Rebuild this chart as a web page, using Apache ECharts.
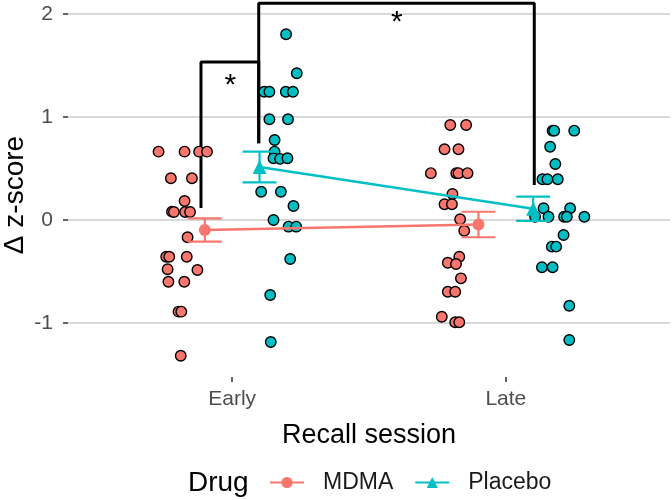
<!DOCTYPE html>
<html>
<head>
<meta charset="utf-8">
<script src="https://cdn.jsdelivr.net/npm/echarts@6/dist/echarts.min.js"></script>
<style>html,body{margin:0;padding:0;background:#fff;}#c{width:672px;height:500px;}</style>
</head>
<body>
<div id="c"></div>
<script>
// ---- data ----
const categories = ['Early', 'Late'];
const yTicks = [-1, 0, 1, 2];
const seriesNames = ['MDMA', 'Placebo'];
const xTitle = 'Recall session';
const yTitle = 'Δ z-score';
const legendTitle = 'Drug';

// jittered individual points [x, Δ z-score]
const mdmaPoints = [
  [0.731,0.664],[0.826,0.664],[0.879,0.664],[0.908,0.664],
  [0.776,0.405],[0.853,0.405],
  [0.826,0.185],
  [0.780,0.081],[0.787,0.078],[0.828,0.078],[0.846,0.078],
  [0.837,-0.168],
  [0.759,-0.357],[0.770,-0.357],[0.834,-0.357],
  [0.764,-0.479],[0.873,-0.486],
  [0.767,-0.600],[0.825,-0.600],
  [0.804,-0.891],[0.814,-0.891],
  [0.812,-1.319],
  [1.797,0.923],[1.855,0.923],
  [1.776,0.687],[1.827,0.687],
  [1.726,0.455],[1.819,0.455],[1.827,0.455],[1.860,0.455],
  [1.805,0.253],[1.776,0.153],[1.803,0.153],
  [1.833,0.007],[1.848,-0.104],
  [1.830,-0.357],[1.788,-0.415],[1.818,-0.428],
  [1.836,-0.567],
  [1.788,-0.697],[1.815,-0.697],
  [1.766,-0.940],[1.815,-0.994],[1.830,-0.994]
];
const placeboPoints = [
  [1.197,1.805],[1.236,1.426],
  [1.117,1.247],[1.136,1.247],[1.196,1.247],[1.222,1.247],
  [1.136,0.979],[1.204,0.979],
  [1.155,0.777],[1.155,0.664],
  [1.151,0.600],[1.175,0.594],[1.202,0.600],
  [1.106,0.275],[1.178,0.275],
  [1.224,0.136],[1.151,0.0],
  [1.206,-0.065],[1.234,-0.065],
  [1.212,-0.379],[1.139,-0.729],[1.141,-1.186],
  [2.171,0.868],[2.177,0.868],[2.250,0.868],
  [2.162,0.712],[2.181,0.544],
  [2.134,0.396],[2.152,0.396],[2.190,0.396],
  [2.138,0.114],[2.235,0.114],
  [2.107,0.032],[2.156,0.032],[2.213,0.032],[2.223,0.032],[2.287,0.032],
  [2.211,-0.146],[2.168,-0.259],[2.184,-0.259],
  [2.132,-0.460],[2.171,-0.460],
  [2.232,-0.833],[2.232,-1.166]
];

// group means [x, mean, se]
const mdmaMeans = [[0.9,-0.097,0.113],[1.9,-0.044,0.124]];
const placeboMeans = [[1.1,0.515,0.149],[2.1,0.109,0.118]];

// significance brackets (polyline vertices) and star positions
const bracketShort = [[0.886,0.117],[0.886,1.535],[1.097,1.535],[1.097,0.745]];
const bracketLong  = [[1.097,0.745],[1.097,2.106],[2.104,2.106],[2.104,0.340]];
const stars = [[0.993,1.377],[1.602,1.982]];

// ---- chart ----
const RED = '#F8766D', TEAL = '#00BFC4';
const FONT = 'Liberation Sans, Arial, sans-serif';
const CAP = 0.062;

function errRender(color) {
  return function (params, api) {
    const x = api.value(0), m = api.value(1), se = api.value(2);
    const top = api.coord([x, m + se]);
    const bot = api.coord([x, m - se]);
    const l = api.coord([x - CAP, m])[0];
    const r = api.coord([x + CAP, m])[0];
    const st = { stroke: color, lineWidth: 2.2 };
    return { type: 'group', children: [
      { type: 'line', shape: { x1: top[0], y1: top[1], x2: bot[0], y2: bot[1] }, style: st },
      { type: 'line', shape: { x1: l, y1: top[1], x2: r, y2: top[1] }, style: st },
      { type: 'line', shape: { x1: l, y1: bot[1], x2: r, y2: bot[1] }, style: st }
    ]};
  };
}

function starRender(params, api) {
  const p = api.coord([api.value(0), api.value(1)]);
  return { type: 'text', x: p[0], y: p[1] + 7,
    style: { text: '*', fontSize: 30, fill: '#000', fontFamily: FONT, align: 'center', verticalAlign: 'middle' } };
}

const chart = echarts.init(document.getElementById('c'), null, { renderer: 'canvas' });
chart.setOption({
  animation: false,
  textStyle: { fontFamily: FONT },
  grid: { left: 68, right: 2, top: 0, bottom: 123, containLabel: false, outerBoundsMode: 'none' },
  xAxis: {
    type: 'value', min: 0.4, max: 2.6,
    name: xTitle, nameLocation: 'middle', nameGap: 45,
    nameTextStyle: { fontSize: 27, color: '#000', fontFamily: FONT },
    axisLine: { show: false, onZero: false },
    axisTick: { show: true, length: 5, customValues: [1, 2], lineStyle: { color: '#333', width: 1.5 } },
    axisLabel: { customValues: [1, 2], margin: 12, fontSize: 21, color: '#4D4D4D', fontFamily: FONT,
      formatter: v => categories[Math.round(v) - 1] },
    splitLine: { show: false }
  },
  yAxis: {
    type: 'value', min: -1.526, max: 2.138,
    axisLine: { show: false, onZero: false },
    axisTick: { show: true, length: 5, customValues: yTicks, lineStyle: { color: '#333', width: 1.5 } },
    axisLabel: { customValues: yTicks, margin: 15, fontSize: 21, color: '#4D4D4D', fontFamily: FONT },
    splitLine: { show: false }
  },
  legend: {
    data: seriesNames, left: 264, top: 466, itemWidth: 34, itemHeight: 14, itemGap: 21,
    textStyle: { fontSize: 23, color: '#1a1a1a', fontFamily: FONT, padding: [0, 0, 0, 14] }
  },
  graphic: [
    { type: 'text', left: 188, top: 469, style: { text: legendTitle, fontSize: 28, fill: '#000', fontFamily: FONT } },
    { type: 'text', x: 15, y: 195, rotation: Math.PI / 2,
      style: { text: yTitle, fontSize: 28, fill: '#000', fontFamily: FONT, align: 'center', verticalAlign: 'middle' } }
  ],
  series: [
    { type: 'line', name: 'grid', data: [], silent: true, z: 0,
      markLine: { silent: true, z: 0, symbol: 'none', label: { show: false },
        lineStyle: { color: '#d9d9d9', width: 1.8, type: 'solid' },
        data: yTicks.map(v => ({ yAxis: v })) } },
    { type: 'line', name: 'b1', data: bracketShort, showSymbol: false, symbol: 'none', silent: true, z: 1,
      lineStyle: { color: '#000', width: 3 } },
    { type: 'line', name: 'b2', data: bracketLong, showSymbol: false, symbol: 'none', silent: true, z: 1,
      lineStyle: { color: '#000', width: 3 } },
    { type: 'custom', name: 'stars', data: stars, renderItem: starRender, silent: true, z: 1, clip: false },
    { type: 'scatter', name: 'MDMA pts', data: mdmaPoints, symbol: 'circle', symbolSize: 10.5, z: 2,
      itemStyle: { color: RED, borderColor: '#000', borderWidth: 1.4, opacity: 1 } },
    { type: 'scatter', name: 'Placebo pts', data: placeboPoints, symbol: 'circle', symbolSize: 10.5, z: 2,
      itemStyle: { color: TEAL, borderColor: '#000', borderWidth: 1.4, opacity: 1 } },
    { type: 'line', name: 'MDMA', data: mdmaMeans.map(d => [d[0], d[1]]), symbol: 'circle', symbolSize: 12,
      showSymbol: true, z: 3, color: RED, lineStyle: { color: RED, width: 2.5 }, itemStyle: { color: RED } },
    { type: 'line', name: 'Placebo', data: placeboMeans.map(d => [d[0], d[1]]), symbol: 'triangle', symbolSize: 14,
      showSymbol: true, z: 3, color: TEAL, lineStyle: { color: TEAL, width: 2.5 }, itemStyle: { color: TEAL } },
    { type: 'custom', name: 'MDMA se', data: mdmaMeans, renderItem: errRender(RED), z: 3, silent: true },
    { type: 'custom', name: 'Placebo se', data: placeboMeans, renderItem: errRender(TEAL), z: 3, silent: true }
  ]
});
</script>
</body>
</html>
